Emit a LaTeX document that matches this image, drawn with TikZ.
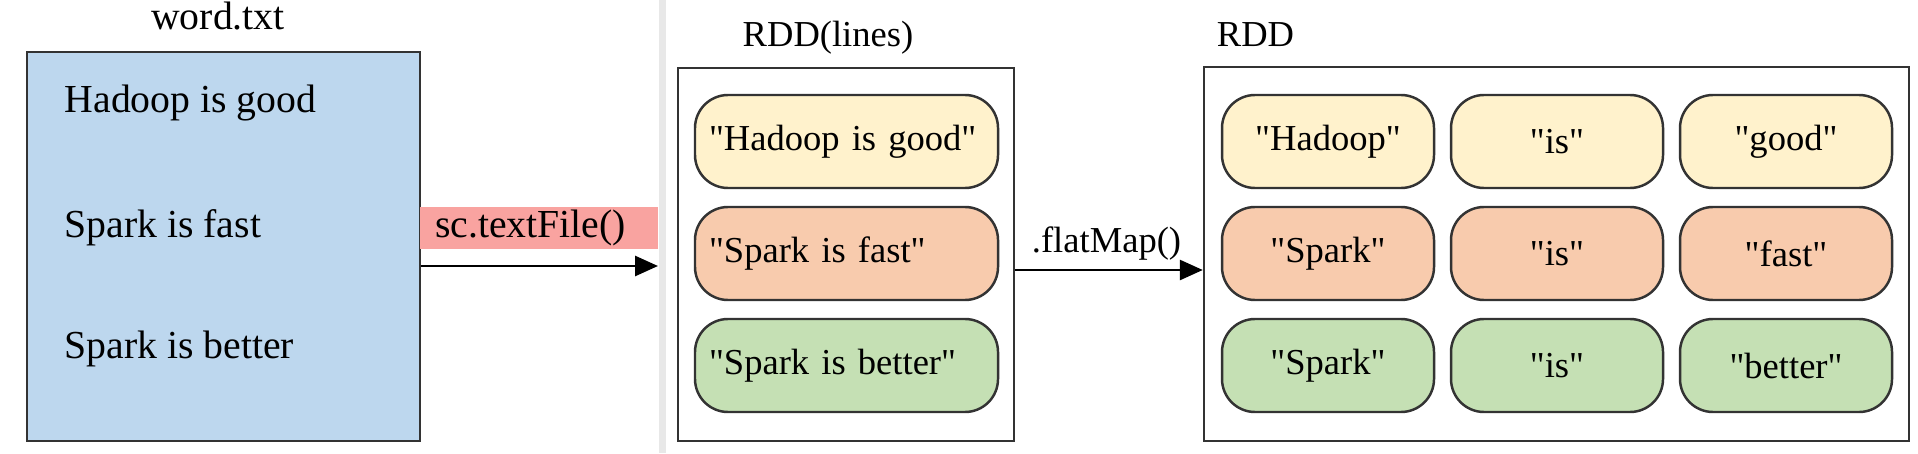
\documentclass[tikz,border=0pt]{standalone}
\usepackage{fontspec}
\setmainfont{Liberation Serif}[Ligatures=TeXOff]
\usepackage{xcolor}
\usetikzlibrary{arrows.meta}

\definecolor{fileblue}{RGB}{189,215,238}
\definecolor{callred}{RGB}{249,163,160}
\definecolor{rowa}{RGB}{255,242,204}
\definecolor{rowb}{RGB}{248,203,173}
\definecolor{rowc}{RGB}{197,224,180}
\definecolor{edge}{RGB}{51,51,51}
\newcommand{\bigtext}{\fontsize{11.3}{13.5}\selectfont}
\newcommand{\pilltext}{\fontsize{10.4}{12.5}\selectfont}

\begin{document}
\begin{tikzpicture}[
  frame/.style={draw=edge,line width=0.7pt},
  pill/.style={frame,fill=#1,rounded corners=0.33cm,minimum height=0.93cm,inner xsep=0.14cm,font=\pilltext},
  word/.style={inner sep=0pt,font=\bigtext},
  tag/.style={inner sep=0pt,font=\pilltext},
  arr/.style={line width=0.8pt,-{Triangle[length=0.23cm,width=0.2cm]}}]
\useasboundingbox (0,0) rectangle (19.18,4.53);

\fill[black!9] (6.585,0) rectangle (6.655,4.53);

\node[frame,line width=0.8pt,fill=fileblue,minimum width=3.93cm,minimum height=3.89cm] (file) at (2.235,2.065) {};
\node[word,anchor=base] (filename) at (2.18,4.23) {word.txt};
\node[word,anchor=base west] (f1) at (0.64,3.40) {Hadoop is good};
\node[word,anchor=base west] (f2) at (0.64,2.16) {Spark is fast};
\node[word,anchor=base west] (f3) at (0.64,0.95) {Spark is better};

\node[word,fill=callred,minimum height=0.42cm,text width=2.08cm,inner xsep=0.15cm,align=left] (call) at (5.39,2.25) {sc.textFile()};
\coordinate (tip) at (6.58,1.87);
\draw[arr] (file.east |- tip) -- (tip);

\node[frame,minimum width=3.36cm,minimum height=3.73cm] (lines) at (8.46,1.985) {};
\node[tag,anchor=base] (linesname) at (8.28,4.06) {RDD(lines)};
\node[pill=rowa,text width=2.75cm,align=left] (l1) at (8.465,3.115) {"Hadoop is good"};
\node[pill=rowb,text width=2.75cm,align=left] (l2) at (8.465,1.995) {"Spark is fast"};
\node[pill=rowc,text width=2.75cm,align=left] (l3) at (8.465,0.875) {"Spark is better"};

\node[frame,minimum width=7.05cm,minimum height=3.74cm] (rdd) at (15.565,1.99) {};
\node[tag,anchor=base] (rddname) at (12.555,4.06) {RDD};

\coordinate (flow) at (0,1.83);
\draw[arr] (lines.east |- flow) -- (rdd.west |- flow);
\node[tag,anchor=base] (flat) at (11.065,2.01) {.flatMap()};

\node[pill=rowa,minimum width=2.12cm] (w11) at (13.28,3.115) {"Hadoop"};
\node[pill=rowa,minimum width=2.12cm] (w12) at (15.57,3.115) {"is"};
\node[pill=rowa,minimum width=2.12cm] (w13) at (17.86,3.115) {"good"};
\node[pill=rowb,minimum width=2.12cm] (w21) at (13.28,1.995) {"Spark"};
\node[pill=rowb,minimum width=2.12cm] (w22) at (15.57,1.995) {"is"};
\node[pill=rowb,minimum width=2.12cm] (w23) at (17.86,1.995) {"fast"};
\node[pill=rowc,minimum width=2.12cm] (w31) at (13.28,0.875) {"Spark"};
\node[pill=rowc,minimum width=2.12cm] (w32) at (15.57,0.875) {"is"};
\node[pill=rowc,minimum width=2.12cm] (w33) at (17.86,0.875) {"better"};
\end{tikzpicture}
\end{document}
